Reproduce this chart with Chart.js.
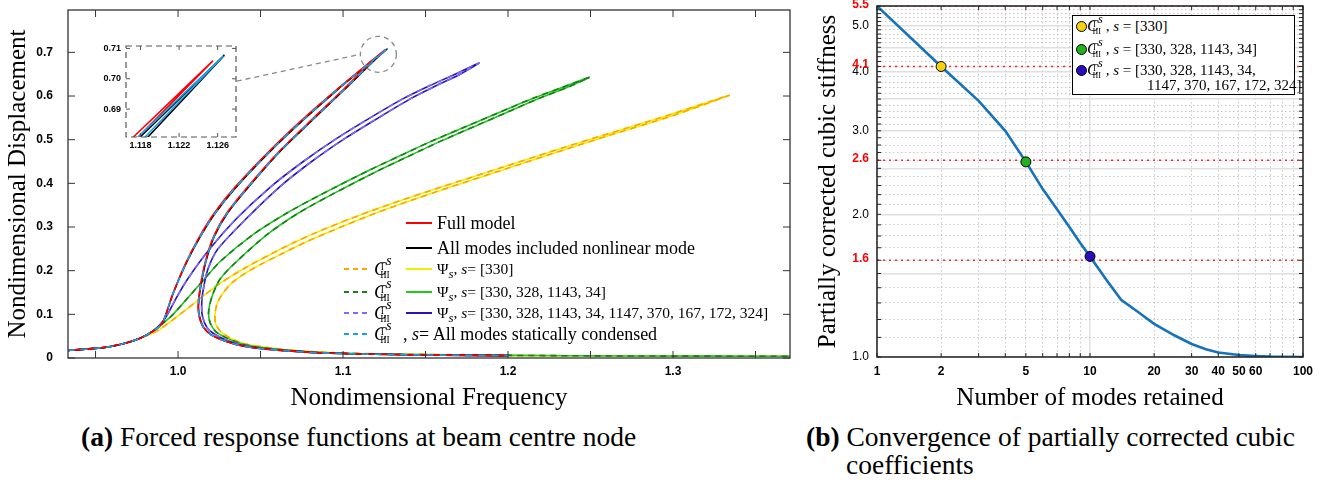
<!DOCTYPE html>
<html>
<head>
<meta charset="utf-8">
<title>Forced response and cubic stiffness convergence</title>
<script src="https://cdn.jsdelivr.net/npm/chart.js@4.4.1/dist/chart.umd.min.js"></script>
<style>
  body { margin: 0; width: 1321px; height: 481px; position: relative; overflow: hidden; background: #fff;
         font-family: "Liberation Serif", "Times New Roman", serif; color: #000; }
  .abs { position: absolute; }
  .row { position: absolute; left: 0; height: 20px; line-height: 20px; white-space: nowrap; }
  .row > * { position: absolute; top: 0; }
  .txt { font-size: 18px; }
  .mth { font-size: 15.5px; }
  .smp { width: 26px; height: 2px; top: 9px !important; }
  .cs { display: inline-block; position: relative; width: 1.5em; font-size: 19px; }
  .cs .c { font-style: italic; }
  .cs .a { position: absolute; left: 0.7em; top: -0.2em; font-size: 0.5em; }
  .cs .b { position: absolute; left: 0.9em; top: -0.6em; font-size: 0.72em; font-style: italic; }
  .cs .d { position: absolute; left: 0.66em; top: 0.6em; font-size: 0.5em; }
  .cap { position: absolute; font-size: 27.5px; line-height: 28px; white-space: nowrap; }
  #rleg { position: absolute; left: 1072px; top: 15px; width: 221px; height: 78px; border: 1.5px solid #000; background: #fff; }
  #rleg .r { position: absolute; height: 20px; line-height: 20px; font-size: 15px; white-space: nowrap; }
  #rleg .cs { font-size: 17px; width: 1.1em; }
  .dot { position: absolute; width: 9px; height: 9px; border: 1px solid #000; border-radius: 50%; }
</style>
</head>
<body>

<div class="abs" style="left:0;top:0"><canvas id="left" width="800" height="420"></canvas></div>
<div class="abs" style="left:90px;top:36px"><canvas id="inset" width="160" height="126"></canvas></div>
<div class="abs" style="left:810px;top:0"><canvas id="right" width="511" height="420"></canvas></div>

<!-- legende gauche -->
<div class="row" style="top:213px">
  <span class="smp" style="left:406px;background:#ff0000"></span>
  <span class="txt" style="left:437px">Full model</span>
</div>
<div class="row" style="top:238px">
  <span class="smp" style="left:406px;background:#000"></span>
  <span class="txt" style="left:437px">All modes included nonlinear mode</span>
</div>
<div class="row" style="top:259px">
  <span class="smp" style="left:344px;background:repeating-linear-gradient(90deg,#ffa500 0 5px,transparent 5px 9px)"></span>
  <span class="cs" style="left:374px"><span class="c">C</span><span class="a">I</span><span class="b">s</span><span class="d">III</span></span>
  <span class="smp" style="left:406px;background:#f0ee00"></span>
  <span class="mth" style="left:437px">Ψ<sub><i>s</i></sub>, <i>s</i>= [330]</span>
</div>
<div class="row" style="top:282px">
  <span class="smp" style="left:344px;background:repeating-linear-gradient(90deg,#1b7d1b 0 5px,transparent 5px 9px)"></span>
  <span class="cs" style="left:374px"><span class="c">C</span><span class="a">I</span><span class="b">s</span><span class="d">III</span></span>
  <span class="smp" style="left:406px;background:#1ec81e"></span>
  <span class="mth" style="left:437px">Ψ<sub><i>s</i></sub>, <i>s</i>= [330, 328, 1143, 34]</span>
</div>
<div class="row" style="top:303px">
  <span class="smp" style="left:344px;background:repeating-linear-gradient(90deg,#7b6cf6 0 5px,transparent 5px 9px)"></span>
  <span class="cs" style="left:374px"><span class="c">C</span><span class="a">I</span><span class="b">s</span><span class="d">III</span></span>
  <span class="smp" style="left:406px;background:#2a12b8"></span>
  <span class="mth" style="left:437px">Ψ<sub><i>s</i></sub>, <i>s</i>= [330, 328, 1143, 34, 1147, 370, 167, 172, 324]</span>
</div>
<div class="row" style="top:324px">
  <span class="smp" style="left:344px;background:repeating-linear-gradient(90deg,#1c9ee6 0 5px,transparent 5px 9px)"></span>
  <span class="cs" style="left:374px"><span class="c">C</span><span class="a">I</span><span class="b">s</span><span class="d">III</span></span>
  <span class="txt" style="left:403px">, <i>s</i>= All modes statically condensed</span>
</div>

<!-- legende droite -->
<div id="rleg">
  <span class="dot" style="left:3px;top:5px;background:#f5d10f"></span>
  <span class="r" style="left:14px;top:0px"><span class="cs"><span class="c">C</span><span class="a">I</span><span class="b">s</span><span class="d">III</span></span>, <i>s</i> = [330]</span>
  <span class="dot" style="left:3px;top:28px;background:#21b11e"></span>
  <span class="r" style="left:14px;top:23px"><span class="cs"><span class="c">C</span><span class="a">I</span><span class="b">s</span><span class="d">III</span></span>, <i>s</i> = [330, 328, 1143, 34]</span>
  <span class="dot" style="left:3px;top:49px;background:#2b0cc0"></span>
  <span class="r" style="left:14px;top:44px"><span class="cs"><span class="c">C</span><span class="a">I</span><span class="b">s</span><span class="d">III</span></span>, <i>s</i> = [330, 328, 1143, 34,</span>
  <span class="r" style="left:74px;top:59px">1147, 370, 167, 172, 324]</span>
</div>

<div class="cap" style="left:81px;top:423px"><b>(a)</b> Forced response functions at beam centre node</div>
<div class="cap" style="left:806px;top:423px"><b>(b)</b> Convergence of partially corrected cubic</div>
<div class="cap" style="left:846px;top:451px">coefficients</div>

<script>
// courbes de réponse forcée : [fréquence, déplacement]
const fullModel = [
  [0.933,0.0175],[0.95,0.022],[0.96,0.027],[0.97,0.036],[0.978,0.047],[0.985,0.062],[0.988,0.07],
  [0.991,0.083],[0.997,0.148],[1.005,0.22],[1.013,0.278],[1.022,0.332],[1.034,0.389],[1.055,0.473],
  [1.075,0.545],[1.0965,0.616],[1.1173,0.6809],[1.1255,0.7059],
  [1.1178,0.6809],[1.1005,0.616],[1.0808,0.545],[1.0612,0.473],[1.0415,0.389],[1.0295,0.332],
  [1.0215,0.278],[1.0165,0.22],[1.0133,0.16],[1.0122,0.12],[1.0128,0.095],[1.0153,0.07],[1.02,0.053],
  [1.0255,0.043],[1.035,0.031],[1.0455,0.0236],[1.06,0.018],[1.086,0.012],[1.12,0.0085],[1.16,0.0065],
  [1.2,0.0055]
];
const allModesNonlinear = [
  [0.933,0.0175],[0.95,0.022],[0.96,0.027],[0.97,0.036],[0.978,0.047],[0.985,0.062],[0.988,0.07],
  [0.991,0.083],[0.997,0.148],[1.0053,0.22],[1.0135,0.278],[1.0226,0.332],[1.0347,0.389],[1.0558,0.473],
  [1.0759,0.545],[1.0971,0.616],[1.118,0.6809],[1.1267,0.7078],
  [1.1188,0.6809],[1.1012,0.616],[1.0815,0.545],[1.0618,0.473],[1.0421,0.389],[1.03,0.332],
  [1.0219,0.278],[1.0168,0.22],[1.0136,0.16],[1.0124,0.12],[1.013,0.095],[1.0155,0.07],[1.0202,0.053],
  [1.0257,0.043],[1.0352,0.031],[1.0457,0.0236],[1.06,0.018],[1.086,0.012],[1.12,0.0085],[1.16,0.0065],
  [1.2,0.0055]
];
const allModesCondensed = [
  [0.933,0.0175],[0.95,0.022],[0.96,0.027],[0.97,0.036],[0.978,0.047],[0.985,0.062],[0.988,0.07],
  [0.991,0.083],[0.997,0.148],[1.0052,0.22],[1.0134,0.278],[1.0225,0.332],[1.0345,0.389],[1.0556,0.473],
  [1.0757,0.545],[1.0969,0.616],[1.1178,0.6809],[1.1266,0.7075],
  [1.1185,0.6809],[1.101,0.616],[1.0813,0.545],[1.0616,0.473],[1.0419,0.389],[1.0298,0.332],
  [1.0218,0.278],[1.0167,0.22],[1.0135,0.16],[1.0123,0.12],[1.0129,0.095],[1.0154,0.07],[1.0201,0.053],
  [1.0256,0.043],[1.0351,0.031],[1.0456,0.0236],[1.06,0.018],[1.086,0.012],[1.12,0.0085],[1.16,0.0065],
  [1.2,0.0055]
];
const curve9 = [
  [0.933,0.0175],[0.95,0.022],[0.96,0.027],[0.97,0.036],[0.978,0.047],[0.985,0.062],[0.992,0.09],
  [0.998,0.131],[1.0053,0.178],[1.019,0.249],[1.0356,0.32],[1.0558,0.391],[1.0759,0.45],[1.0962,0.503],
  [1.1164,0.55],[1.1365,0.594],[1.1527,0.624],[1.168,0.65],[1.1824,0.6757],
  [1.171,0.65],[1.1567,0.624],[1.141,0.594],[1.1214,0.55],[1.1012,0.503],[1.081,0.45],[1.0613,0.391],
  [1.0416,0.32],[1.024,0.249],[1.0178,0.2],[1.015,0.15],[1.0143,0.12],[1.0148,0.095],[1.0175,0.07],
  [1.022,0.055],[1.028,0.043],[1.037,0.031],[1.047,0.024],[1.062,0.018],[1.086,0.012],[1.12,0.0085],
  [1.16,0.0065],[1.2,0.0055]
];
const curve4 = [
  [0.933,0.0175],[0.95,0.022],[0.96,0.027],[0.97,0.036],[0.978,0.047],[0.985,0.062],[0.991,0.08],
  [0.997,0.1],[1.0053,0.135],[1.016,0.181],[1.0255,0.221],[1.0456,0.283],[1.066,0.332],[1.086,0.373],
  [1.1164,0.431],[1.1345,0.463],[1.1527,0.495],[1.175,0.531],[1.195,0.563],[1.2153,0.595],[1.233,0.62],
  [1.2493,0.6427],
  [1.236,0.62],[1.219,0.595],[1.1995,0.563],[1.18,0.531],[1.1582,0.495],[1.1403,0.463],[1.1224,0.431],
  [1.0925,0.373],[1.073,0.332],[1.0541,0.283],[1.0355,0.221],[1.0255,0.181],[1.0205,0.14],[1.0185,0.105],
  [1.0195,0.08],[1.023,0.06],[1.03,0.045],[1.038,0.033],[1.048,0.025],[1.065,0.018],[1.09,0.012],
  [1.13,0.0085],[1.2,0.006],[1.28,0.0045],[1.371,0.004]
];
const curve330 = [
  [0.933,0.0175],[0.95,0.022],[0.96,0.027],[0.97,0.036],[0.978,0.047],[0.985,0.057],[0.9891,0.066],
  [0.997,0.088],[1.0053,0.112],[1.015,0.141],[1.0255,0.171],[1.04,0.205],[1.0558,0.237],[1.07,0.264],
  [1.086,0.291],[1.11,0.327],[1.1345,0.36],[1.16,0.392],[1.1952,0.435],[1.2255,0.472],[1.2558,0.508],
  [1.2962,0.555],[1.3341,0.6017],
  [1.2997,0.555],[1.2598,0.508],[1.23,0.472],[1.2002,0.435],[1.1655,0.392],[1.1405,0.36],[1.1165,0.327],
  [1.093,0.291],[1.0765,0.264],[1.062,0.237],[1.0455,0.205],[1.0335,0.175],[1.0275,0.15],[1.0237,0.125],
  [1.0224,0.1],[1.0228,0.078],[1.026,0.06],[1.032,0.045],[1.04,0.033],[1.05,0.026],[1.068,0.018],
  [1.095,0.012],[1.135,0.0085],[1.2,0.006],[1.28,0.0045],[1.371,0.004]
];

// graduations du panneau (a)
const freqTicks = [0.95, 1.0, 1.05, 1.1, 1.15, 1.2, 1.25, 1.3, 1.35];
const freqLabels = [1.0, 1.1, 1.2, 1.3];
const dispTicks = [0, 0.1, 0.2, 0.3, 0.4, 0.5, 0.6, 0.7];
const insetFreqTicks = [1.118, 1.122, 1.126];
const insetDispTicks = [0.69, 0.70, 0.71];
// cercle de zoom et trait de renvoi (coordonnées données)
const zoomCentre = [1.1214, 0.6956];
const zoomLink = [1.0356, 0.634];

// panneau (b) : convergence de la raideur cubique
const modes = [1, 2, 3, 4, 5, 6, 7, 8, 9, 10, 12, 14, 17, 20, 25, 30, 35, 40, 50, 60, 70, 80, 100];
const stiffness = [5.5, 4.1, 3.47, 3.0, 2.58, 2.26, 2.05, 1.88, 1.74, 1.63, 1.45, 1.32, 1.24, 1.175,
                   1.11, 1.065, 1.038, 1.022, 1.01, 1.005, 1.002, 1.001, 1.0];
const markerModes = [2, 5, 10];
const markerColors = ['#f5d10f', '#21b11e', '#2b0cc0'];
const refLevels = [5.5, 4.1, 2.6, 1.6];
const modeTicks = [1, 2, 3, 4, 5, 6, 7, 8, 9, 10, 20, 30, 40, 50, 60, 70, 80, 90, 100];
const modeLabels = [1, 2, 5, 10, 20, 30, 40, 50, 60, 100];
const stiffLabels = [1, 2, 3, 4, 5];


const serif = '"Liberation Serif", "Times New Roman", serif';
const sans = '"Liberation Sans", Arial, sans-serif';

const near = (list, v) => list.some(a => Math.abs(a - v) < 1e-6);

// cadre + graduations vers l'intérieur
const frameTicks = {
  id: 'frameTicks',
  afterDraw(chart, args, opts) {
    const { ctx, chartArea: a, scales: { x, y } } = chart;
    ctx.save();
    ctx.strokeStyle = opts.color;
    ctx.lineWidth = opts.width;
    ctx.setLineDash(opts.dash || []);
    ctx.strokeRect(a.left, a.top, a.right - a.left, a.bottom - a.top);
    ctx.setLineDash([]);
    ctx.lineWidth = 1;
    ctx.beginPath();
    x.ticks.forEach(t => {
      const p = x.getPixelForValue(t.value);
      ctx.moveTo(p, a.bottom); ctx.lineTo(p, a.bottom - opts.len);
      ctx.moveTo(p, a.top); ctx.lineTo(p, a.top + opts.len);
    });
    y.ticks.forEach(t => {
      const p = y.getPixelForValue(t.value);
      ctx.moveTo(a.left, p); ctx.lineTo(a.left + opts.len, p);
      ctx.moveTo(a.right, p); ctx.lineTo(a.right - opts.len, p);
    });
    ctx.stroke();
    ctx.restore();
  }
};

// cercle pointillé autour du pic + trait vers l'encart
const zoomMark = {
  id: 'zoomMark',
  afterDatasetsDraw(chart) {
    const { ctx, scales: { x, y } } = chart;
    const cx = x.getPixelForValue(zoomCentre[0]);
    const cy = y.getPixelForValue(zoomCentre[1]);
    const r = 18;
    ctx.save();
    ctx.strokeStyle = '#8a8a8a';
    ctx.lineWidth = 1.3;
    ctx.setLineDash([5, 4]);
    ctx.beginPath();
    ctx.arc(cx, cy, r, 0, 2 * Math.PI);
    ctx.stroke();
    ctx.beginPath();
    ctx.moveTo(x.getPixelForValue(zoomLink[0]), y.getPixelForValue(zoomLink[1]));
    ctx.lineTo(cx - r, cy);
    ctx.stroke();
    ctx.restore();
  }
};

// l'axe des niveaux rouges a une largeur nulle : on lui rend la place de l'axe y
// pour que ses étiquettes ne soient pas coupées
const refAxisSpan = {
  id: 'refAxisSpan',
  afterLayout(chart) {
    const r = chart.scales.yRef;
    r.left = chart.scales.y.left;
    r.width = r.right - r.left;
  }
};

function curveSet(data, color, dash, order, tension) {
  return {
    data: data.map(p => ({ x: p[0], y: p[1] })),
    borderColor: color,
    borderDash: dash,
    borderWidth: 1.6,
    showLine: true,
    pointRadius: 0,
    tension: tension,
    order: order
  };
}

// taille d'axe fixe, sans marge pour les étiquettes d'extrémité
const fixWidth = w => s => { s.width = w; s.paddingTop = 0; s.paddingBottom = 0; };
const fixHeight = h => s => { s.height = h; s.paddingLeft = 0; s.paddingRight = 0; };

const tickFont = { family: sans, size: 12, weight: 'bold' };


// panneau (a)
new Chart(document.getElementById('left'), {
  type: 'scatter',
  data: {
    datasets: [
      curveSet(allModesCondensed, '#1c9ee6', [7, 6], 0, 0.25),
      curveSet(fullModel, '#ff0000', [], 1, 0.25),
      curveSet(allModesNonlinear, '#000000', [], 2, 0.25),
      curveSet(curve9, '#7b6cf6', [6, 5], 3, 0.25),
      curveSet(curve9, '#2a12b8', [], 4, 0.25),
      curveSet(curve4, '#1b7d1b', [6, 5], 5, 0.25),
      curveSet(curve4, '#1ec81e', [], 6, 0.25),
      curveSet(curve330, '#ffa500', [6, 5], 7, 0.25),
      curveSet(curve330, '#f0ee00', [], 8, 0.25)
    ]
  },
  options: {
    responsive: false,
    animation: false,
    events: [],
    layout: { padding: { top: 10, right: 10, left: 0, bottom: 0 } },
    plugins: {
      legend: { display: false },
      tooltip: { enabled: false },
      frameTicks: { color: '#333', width: 1.3, len: 7 }
    },
    scales: {
      x: {
        type: 'linear', min: 0.9333, max: 1.3709,
        afterBuildTicks: s => { s.ticks = freqTicks.map(v => ({ value: v })); },
        afterFit: fixHeight(62),
        grid: { display: false, drawTicks: false },
        border: { display: false },
        ticks: {
          autoSkip: false, maxRotation: 0, padding: 6, color: '#000', font: tickFont,
          callback: v => near(freqLabels, v) ? v.toFixed(1) : ''
        },
        title: { display: true, text: 'Nondimensional Frequency', color: '#000',
                 font: { family: serif, size: 25 }, padding: { top: 0, bottom: 7 } }
      },
      y: {
        min: 0, max: 0.797,
        afterBuildTicks: s => { s.ticks = dispTicks.map(v => ({ value: v })); },
        afterFit: fixWidth(68),
        grid: { display: false, drawTicks: false },
        border: { display: false },
        ticks: {
          autoSkip: false, padding: 15, color: '#000', font: tickFont,
          callback: v => v === 0 ? '0' : v.toFixed(1)
        },
        title: { display: true, text: 'Nondimensional Displacement', color: '#000',
                 font: { family: serif, size: 25 }, padding: { top: 3, bottom: 0 } }
      }
    }
  },
  plugins: [frameTicks, zoomMark]
});


// encart agrandi du pic
new Chart(document.getElementById('inset'), {
  type: 'scatter',
  data: {
    datasets: [
      curveSet(allModesCondensed, '#1c9ee6', [], 0, 0),
      curveSet(fullModel, '#ff0000', [], 1, 0),
      curveSet(allModesNonlinear, '#000000', [], 2, 0)
    ]
  },
  options: {
    responsive: false,
    animation: false,
    events: [],
    layout: { padding: { top: 10, right: 14, left: 0, bottom: 0 } },
    plugins: {
      legend: { display: false },
      tooltip: { enabled: false },
      frameTicks: { color: '#555', width: 1.2, dash: [6, 4], len: 4 }
    },
    scales: {
      x: {
        type: 'linear', min: 1.1165, max: 1.1279,
        afterBuildTicks: s => { s.ticks = insetFreqTicks.map(v => ({ value: v })); },
        afterFit: fixHeight(25),
        grid: { display: false, drawTicks: false },
        border: { display: false },
        ticks: { autoSkip: false, maxRotation: 0, padding: 3, color: '#000',
                 font: { family: sans, size: 9, weight: 'bold' }, callback: v => v.toFixed(3) }
      },
      y: {
        min: 0.6808, max: 0.7108,
        afterBuildTicks: s => { s.ticks = insetDispTicks.map(v => ({ value: v })); },
        afterFit: fixWidth(36),
        grid: { display: false, drawTicks: false },
        border: { display: false },
        ticks: { autoSkip: false, padding: 5, color: '#000',
                 font: { family: sans, size: 9, weight: 'bold' }, callback: v => v.toFixed(2) }
      }
    }
  },
  plugins: [frameTicks]
});


// panneau (b)
const isHalf = v => Math.round(v * 10) % 5 === 0;

new Chart(document.getElementById('right'), {
  type: 'scatter',
  data: {
    datasets: [
      {
        data: markerModes.map(m => ({ x: m, y: stiffness[modes.indexOf(m)] })),
        pointBackgroundColor: markerColors,
        pointBorderColor: '#000',
        pointBorderWidth: 1,
        pointRadius: 5,
        showLine: false,
        order: 0
      },
      {
        data: modes.map((m, i) => ({ x: m, y: stiffness[i] })),
        borderColor: '#1572bb',
        borderWidth: 2.6,
        showLine: true,
        pointRadius: 0,
        tension: 0,
        order: 1
      },
      ...refLevels.map(v => ({
        data: [{ x: 1, y: v }, { x: 100, y: v }],
        borderColor: '#ff2a2a',
        borderWidth: 1.7,
        borderDash: [2, 4],
        showLine: true,
        pointRadius: 0,
        order: 2
      }))
    ]
  },
  options: {
    responsive: false,
    animation: false,
    events: [],
    layout: { padding: { top: 6, right: 18, left: 0, bottom: 0 } },
    plugins: {
      legend: { display: false },
      tooltip: { enabled: false },
      frameTicks: { color: '#222', width: 1.5, len: 4 }
    },
    scales: {
      x: {
        type: 'logarithmic', min: 1, max: 100,
        afterBuildTicks: s => { s.ticks = modeTicks.map(v => ({ value: v })); },
        afterFit: fixHeight(63),
        grid: {
          drawTicks: false,
          color: c => near([1, 10, 100], c.tick.value) ? '#e0e0e0' : '#c8c8c8',
          lineWidth: c => near([1, 10, 100], c.tick.value) ? 1.5 : 1
        },
        border: { display: false, dash: c => near([1, 10, 100], c.tick.value) ? [] : [1.5, 2.5] },
        ticks: {
          autoSkip: false, maxRotation: 0, padding: 7, color: '#000', font: tickFont,
          callback: v => near(modeLabels, v) ? String(v) : ''
        },
        title: { display: true, text: 'Number of modes retained', color: '#000',
                 font: { family: serif, size: 25 }, padding: { top: 0, bottom: 7 } }
      },
      y: {
        type: 'logarithmic', min: 1, max: 5.5, weight: 1,
        afterBuildTicks: s => {
          const t = [];
          for (let k = 10; k <= 55; k++) t.push({ value: k / 10 });
          s.ticks = t;
        },
        afterFit: fixWidth(67),
        grid: {
          drawTicks: false,
          color: c => isHalf(c.tick.value) ? '#e0e0e0' : '#c8c8c8',
          lineWidth: c => isHalf(c.tick.value) ? 1.5 : 1
        },
        border: { display: false, dash: c => isHalf(c.tick.value) ? [] : [1.5, 2.5] },
        ticks: {
          autoSkip: false, padding: 8, color: '#000', font: { family: sans, size: 12 },
          callback: v => near(stiffLabels, v) ? v.toFixed(1) : ''
        },
        title: { display: true, text: 'Partially corrected cubic stiffness', color: '#000',
                 font: { family: serif, size: 25 }, padding: { top: 3, bottom: 0 } }
      },
      // niveaux repérés en rouge, sur un axe superposé (au contact du cadre)
      yRef: {
        type: 'logarithmic', position: 'left', min: 1, max: 5.5, weight: 0,
        afterBuildTicks: s => { s.ticks = refLevels.map(v => ({ value: v })); },
        afterFit: fixWidth(0),
        grid: { display: false, drawTicks: false },
        border: { display: false },
        ticks: {
          autoSkip: false, padding: 8, labelOffset: -1.5, color: '#ff0000',
          font: { family: sans, size: 12, weight: 'bold' },
          callback: v => v.toFixed(1)
        }
      }
    }
  },
  plugins: [frameTicks, refAxisSpan]
});
</script>
</body>
</html>
